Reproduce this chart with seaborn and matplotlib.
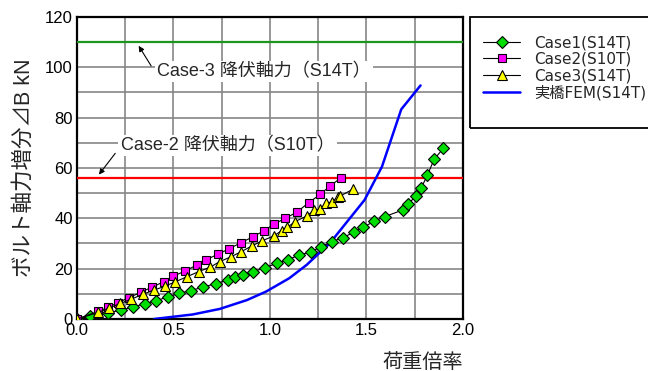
import matplotlib
matplotlib.use("Agg")
import matplotlib.pyplot as plt
import seaborn as sns
from matplotlib.patches import Rectangle
from matplotlib.ticker import MultipleLocator, FormatStrFormatter

# --- data ---
case1_x = [0.0, 0.07, 0.16, 0.23, 0.29, 0.35, 0.41, 0.47, 0.53, 0.59, 0.655, 0.72,
           0.785, 0.82, 0.86, 0.91, 0.975, 1.035, 1.095, 1.15, 1.21, 1.265, 1.32,
           1.377, 1.433, 1.481, 1.54, 1.595, 1.688, 1.713, 1.757, 1.783, 1.816,
           1.85, 1.898]
case1_y = [0.0, 1.0, 2.5, 3.5, 4.8, 6.0, 7.3, 8.7, 10.2, 11.3, 12.7, 14.1,
           15.5, 16.6, 17.5, 18.7, 20.4, 22.1, 23.6, 25.4, 26.6, 28.7, 30.7,
           32.3, 34.4, 36.4, 38.8, 40.7, 43.3, 45.7, 48.7, 52.0, 57.2,
           63.4, 67.8]

case2_x = [0.0, 0.11, 0.16, 0.21, 0.27, 0.33, 0.39, 0.45, 0.50, 0.56, 0.62, 0.67,
           0.73, 0.79, 0.85, 0.91, 0.97, 1.02, 1.08, 1.14, 1.20, 1.26, 1.31, 1.37]
case2_y = [0.0, 3.0, 4.6, 6.4, 8.5, 10.6, 12.7, 14.8, 17.0, 19.1, 21.4, 23.6,
           25.7, 28.0, 30.3, 32.6, 35.1, 37.7, 40.0, 42.5, 46.2, 49.5, 52.8, 56.2]

case3_x = [0.0, 0.11, 0.165, 0.225, 0.28, 0.34, 0.40, 0.455, 0.51, 0.57, 0.63,
           0.69, 0.74, 0.80, 0.85, 0.905, 0.96, 1.02, 1.06, 1.09, 1.13, 1.19,
           1.23, 1.26, 1.29, 1.32, 1.35, 1.365, 1.43]
case3_y = [0.0, 2.6, 4.3, 6.2, 7.8, 9.8, 11.5, 13.0, 14.8, 16.8, 18.8,
           20.6, 22.8, 24.8, 26.7, 29.0, 31.1, 33.0, 35.1, 36.4, 38.7, 40.9,
           43.3, 43.6, 46.0, 46.5, 48.3, 48.9, 51.6]

fem_x = [0.40, 0.60, 0.74, 0.88, 0.98, 1.10, 1.19, 1.31, 1.49, 1.58, 1.68, 1.78]
fem_y = [0.0, 1.8, 4.0, 7.5, 10.9, 16.2, 21.5, 30.1, 47.3, 60.5, 83.3, 92.8]

yield_s14t = 110
yield_s10t = 56

labels = ["Case1(S14T)", "Case2(S10T)", "Case3(S14T)", "実橋FEM(S14T)"]
x_ticks = [0.0, 0.5, 1.0, 1.5, 2.0]

sns.set_style("white")
plt.rcParams['font.family'] = ['Liberation Sans', 'Noto Sans CJK JP', 'DejaVu Sans']

fig = plt.figure(figsize=(6.48, 3.71), dpi=100)
ax = fig.add_axes([0.1188, 0.1402, 0.5957, 0.814])

# reference lines (yield forces)
ax.axhline(yield_s14t, color='#1c961c', lw=1.6, zorder=3)
ax.axhline(yield_s10t, color='#ff0000', lw=1.6, zorder=3)

common = dict(ax=ax, color='black', lw=0.8, estimator=None, sort=False,
              markeredgecolor='black', markeredgewidth=0.8, zorder=5)
sns.lineplot(x=case1_x, y=case1_y, marker='D', markersize=6,
             markerfacecolor='#00dd00', label=labels[0], **common)
sns.lineplot(x=case2_x, y=case2_y, marker='s', markersize=5.5,
             markerfacecolor='#ff00ff', label=labels[1], **common)
sns.lineplot(x=case3_x, y=case3_y, marker='^', markersize=7.5,
             markerfacecolor='#ffff00', label=labels[2], **common)
sns.lineplot(x=fem_x, y=fem_y, ax=ax, color='#0000ff', lw=1.8, estimator=None,
             sort=False, label=labels[3], zorder=4)

ax.set_xlim(0, 2.0)
ax.set_ylim(0, 120)
ax.set_xticks(x_ticks)
ax.xaxis.set_major_formatter(FormatStrFormatter('%.1f'))
ax.xaxis.set_minor_locator(MultipleLocator(0.25))
ax.yaxis.set_major_locator(MultipleLocator(20))
ax.yaxis.set_minor_locator(MultipleLocator(10))
ax.grid(which='both', color='#868686', lw=1.2, zorder=0)
ax.set_axisbelow(True)
ax.tick_params(which='both', length=0, labelsize=12, pad=3, colors='black')
for sp in ax.spines.values():
    sp.set_color('black')
    sp.set_linewidth(1.6)

ax.set_xlabel("荷重倍率", fontsize=14.5, loc='right', labelpad=11)
ax.set_ylabel("ボルト軸力増分⊿B kN", fontsize=15.5, labelpad=7)

# annotations for yield lines
txt_kw = dict(fontsize=13, ha='center', va='center', zorder=6,
              bbox=dict(facecolor='white', edgecolor='none', pad=1.5))
ax.text(0.97, 98.3, "Case-3 降伏軸力（S14T）", **txt_kw)
ax.text(0.78, 69.0, "Case-2 降伏軸力（S10T）", **txt_kw)
arrow_kw = dict(arrowstyle='-|>', color='black', lw=0.8, mutation_scale=8)
ax.annotate('', xy=(0.312, 109.5), xytext=(0.392, 99.6), arrowprops=arrow_kw, zorder=6)
ax.annotate('', xy=(0.105, 56.5), xytext=(0.207, 66.7), arrowprops=arrow_kw, zorder=6)

# legend with a hand-drawn frame
handles, lbls = ax.get_legend_handles_labels()
ax.legend(handles, lbls, loc='upper left', bbox_to_anchor=(0.7390, 0.918),
          bbox_transform=fig.transFigure, frameon=False, borderaxespad=0,
          borderpad=0.3, handlelength=2.4, handletextpad=0.9, labelspacing=0.1,
          prop={'family': ['DejaVu Sans', 'Noto Sans CJK JP'], 'size': 11})
fig.patches.append(Rectangle((470 / 648, 1 - 128 / 371), 190 / 648, 111 / 371,
                             transform=fig.transFigure, fill=False,
                             edgecolor='black', lw=1.3))

fig.savefig("out.png", dpi=100)
